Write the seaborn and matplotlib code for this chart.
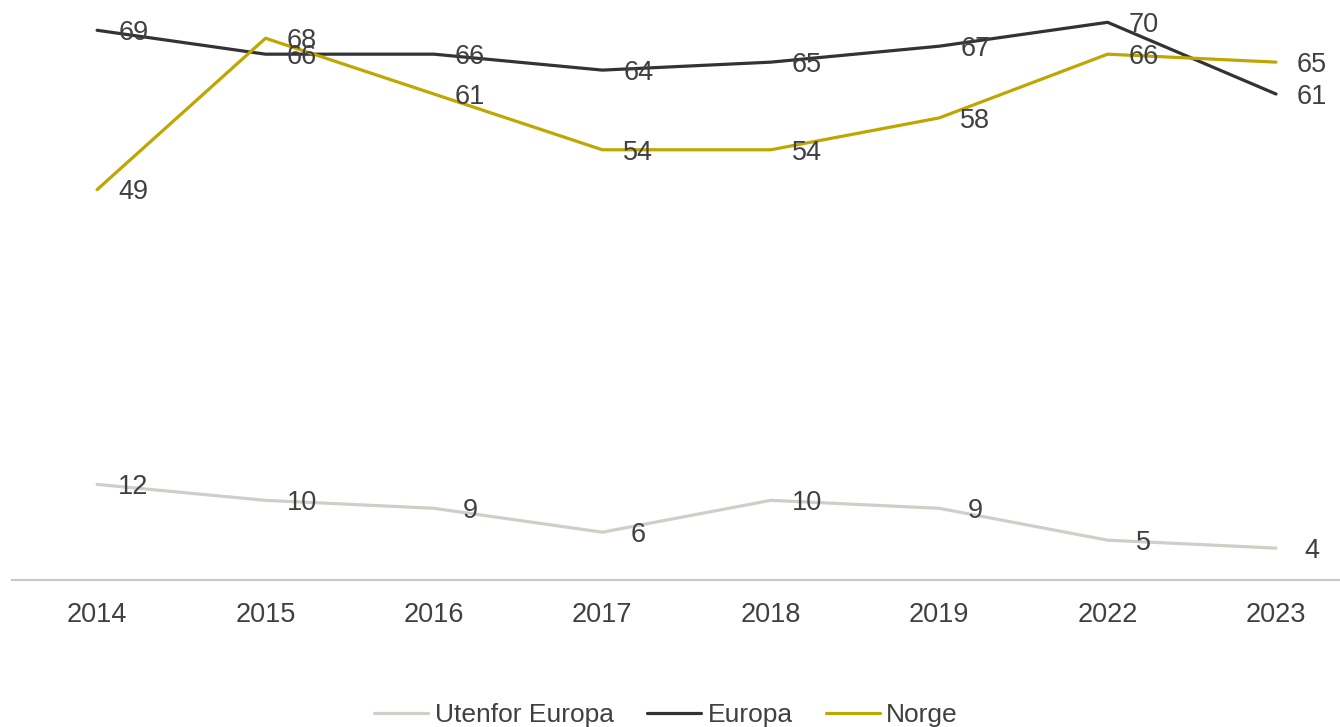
import pandas as pd
import matplotlib.pyplot as plt
import seaborn as sns

years = ['2014', '2015', '2016', '2017', '2018', '2019', '2022', '2023']
utenfor_europa = [12, 10, 9, 6, 10, 9, 5, 4]
europa = [69, 66, 66, 64, 65, 67, 70, 61]
norge = [49, 68, 61, 54, 54, 58, 66, 65]

series = {'Utenfor Europa': utenfor_europa, 'Europa': europa, 'Norge': norge}
colors = {'Utenfor Europa': '#cfcfc7', 'Europa': '#333333', 'Norge': '#bfa600'}

df = pd.DataFrame(
    [(y, name, v) for name, vals in series.items() for y, v in zip(years, vals)],
    columns=['year', 'group', 'value'],
)

sns.set_style('white')
plt.rcParams['font.family'] = ['Liberation Sans', 'DejaVu Sans']
text_color = '#404040'

fig = plt.figure(figsize=(13.4, 7.27), dpi=100)
ax = fig.add_axes([0.009, 0.2022, 0.991, 0.7978])

sns.lineplot(data=df, x='year', y='value', hue='group', palette=colors,
             linewidth=2.3, sort=False, ax=ax, legend=True)

# Data labels to the right of each point
for name, vals in series.items():
    for i, v in enumerate(vals):
        ax.annotate(str(v), (i, v), xytext=(26, -2), textcoords='offset points',
                    ha='center', va='center', fontsize=19.5, color=text_color,
                    zorder=5)

ax.set_xlim(-0.505, 7.38)
ax.set_ylim(0, 72.8)
ax.set_xlabel('')
ax.set_ylabel('')
ax.set_yticks([])
ax.tick_params(axis='x', length=0, pad=15.5, labelsize=19.5, labelcolor=text_color)
for side in ['top', 'right', 'left']:
    ax.spines[side].set_visible(False)
ax.spines['bottom'].set_color('#c8c8c8')
ax.spines['bottom'].set_linewidth(1.5)

handles, labels = ax.get_legend_handles_labels()
ax.legend_.remove()
fig.legend(handles, labels, loc='lower center', bbox_to_anchor=(0.497, -0.033),
           ncol=3, frameon=False, fontsize=19, handlelength=2.05,
           handletextpad=0.25, columnspacing=1.25, labelcolor=text_color)

fig.savefig('out.png', dpi=100)
